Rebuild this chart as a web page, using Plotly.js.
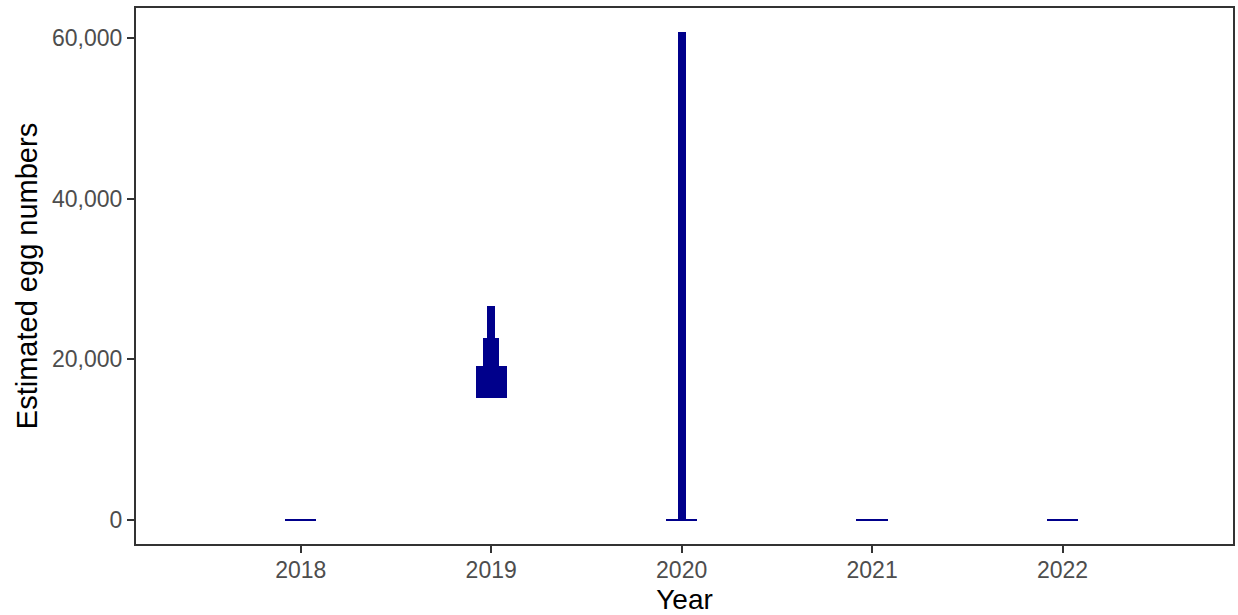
<!DOCTYPE html>
<html>
<head>
<meta charset="utf-8">
<script src="https://cdn.plot.ly/plotly-3.0.1.min.js"></script>
<style>html,body{margin:0;padding:0;background:#fff;}#chart{width:1238px;height:615px;}</style>
</head>
<body>
<div id="chart"></div>
<script>
// Step segments (histogram-like violin) per year
const years  = [2018, 2019, 2019, 2019, 2020, 2020, 2021, 2022];
const lower  = [0, 15200, 19200, 22600, 0, 0, 0, 0];
const upper  = [0, 19200, 22600, 26700, 60750, 0, 0, 0];
const counts = [4, 4, 2, 1, 1, 4, 4, 4];
const yTicks = [0, 20000, 40000, 60000];
const xTicks = [2018, 2019, 2020, 2021, 2022];

const unitWidth = 0.041;
const minH = 130;
const base = [], height = [], width = [];
for (let i = 0; i < years.length; i++) {
  const h = upper[i] - lower[i];
  if (h < minH) { base.push(lower[i] - minH / 2); height.push(minH); }
  else { base.push(lower[i]); height.push(h); }
  width.push(counts[i] * unitWidth);
}

const trace = {
  type: 'bar', x: years, y: height, base: base, width: width,
  marker: {color: '#00008B', line: {width: 0}},
  hoverinfo: 'skip', showlegend: false
};

const font = 'Liberation Sans, Arial, Helvetica, sans-serif';
const layout = {
  width: 1238, height: 615,
  margin: {l: 136, r: 5, t: 8, b: 71, pad: 0},
  paper_bgcolor: '#fff', plot_bgcolor: '#fff',
  barmode: 'overlay', bargap: 0,
  font: {family: font},
  xaxis: {
    range: [2017.135, 2022.895], tickvals: xTicks, ticktext: xTicks.map(String),
    ticks: 'outside', ticklen: 7, tickwidth: 2, tickcolor: '#333',
    ticklabelstandoff: -3,
    showline: true, mirror: true, linecolor: '#333', linewidth: 2,
    showgrid: false, zeroline: false, automargin: false,
    tickfont: {size: 23, color: '#4D4D4D', family: font},
    title: {text: 'Year', font: {size: 28, color: '#000', family: font}, standoff: 9}
  },
  yaxis: {
    range: [-2988, 63734], tickvals: yTicks, ticktext: yTicks.map(v => v.toLocaleString('en-US')),
    ticks: 'outside', ticklen: 7, tickwidth: 2, tickcolor: '#333',
    showline: true, mirror: true, linecolor: '#333', linewidth: 2,
    showgrid: false, zeroline: false, automargin: false,
    tickfont: {size: 23, color: '#4D4D4D', family: font},
    title: {text: 'Estimated egg numbers', font: {size: 29, color: '#000', family: font}, standoff: 6}
  }
};

Plotly.newPlot('chart', [trace], layout, {displayModeBar: false, staticPlot: true});
</script>
</body>
</html>
